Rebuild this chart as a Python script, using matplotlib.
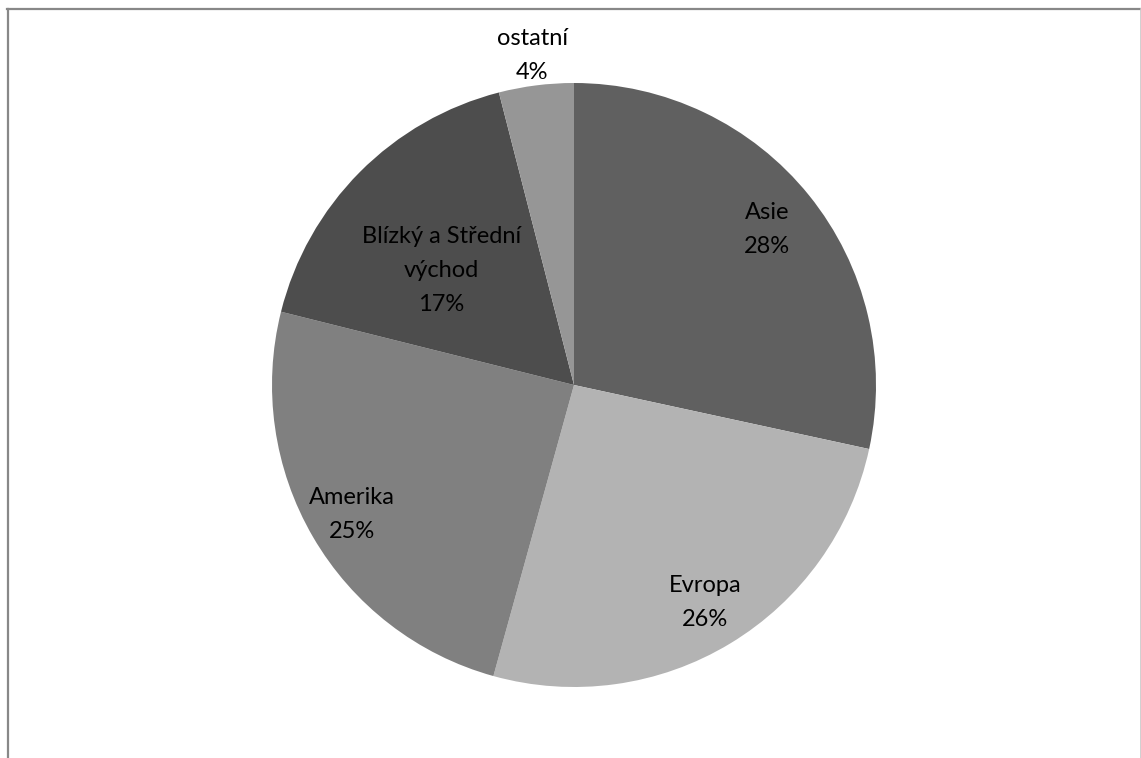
import numpy as np
import matplotlib.pyplot as plt
from matplotlib.lines import Line2D

regions = ["Asie", "Evropa", "Amerika", "Blízký a Střední\nvýchod", "ostatní"]
shares = [28.4, 25.9, 24.6, 17.1, 4.0]
colors = ["#606060", "#b3b3b3", "#808080", "#4d4d4d", "#969696"]
# label distance from centre (fraction of radius), like Excel's best fit
label_r = [0.82, 0.84, 0.85, 0.58, 1.10]

plt.rcParams['font.family'] = ['Lato', 'DejaVu Sans']

W, H = 1141, 758
fig = plt.figure(figsize=(W / 100, H / 100), dpi=100)
fig.patch.set_facecolor("white")

# pie centre at (574, 385) px, radius 302 px
cx, cy, R = 574, 385, 302
ax = fig.add_axes([(cx - R) / W, (H - cy - R) / H, 2 * R / W, 2 * R / H])
wedges, _ = ax.pie(shares, colors=colors, startangle=90, counterclock=False,
                   radius=1, wedgeprops=dict(linewidth=0))
ax.set_xlim(-1, 1)
ax.set_ylim(-1, 1)
ax.set_aspect("equal")
ax.axis("off")

total = sum(shares)
for i, (w, name, val, d) in enumerate(zip(wedges, regions, shares, label_r)):
    ang = np.deg2rad((w.theta1 + w.theta2) / 2)
    if i == 3:
        ang += np.deg2rad(4)  # best-fit label sits a little lower
    x, y = d * np.cos(ang), d * np.sin(ang)
    ax.text(x, y, "%s\n%d%%" % (name, round(val / total * 100)),
            ha="center", va="center", fontsize=17, color="black",
            linespacing=1.75, clip_on=False)

# chart area border (bottom edge is off the picture)
fig.add_artist(Line2D([8 / W, 8 / W], [0, 1 - 8.5 / H], transform=fig.transFigure,
                      color="#888888", lw=1.6))
fig.add_artist(Line2D([7 / W, 1140.5 / W], [1 - 8.5 / H, 1 - 8.5 / H],
                      transform=fig.transFigure, color="#888888", lw=1.6))
fig.add_artist(Line2D([1140.5 / W, 1140.5 / W], [0, 1 - 8.5 / H],
                      transform=fig.transFigure, color="#c8c8c8", lw=1.2))

fig.savefig("out.png", dpi=100)
